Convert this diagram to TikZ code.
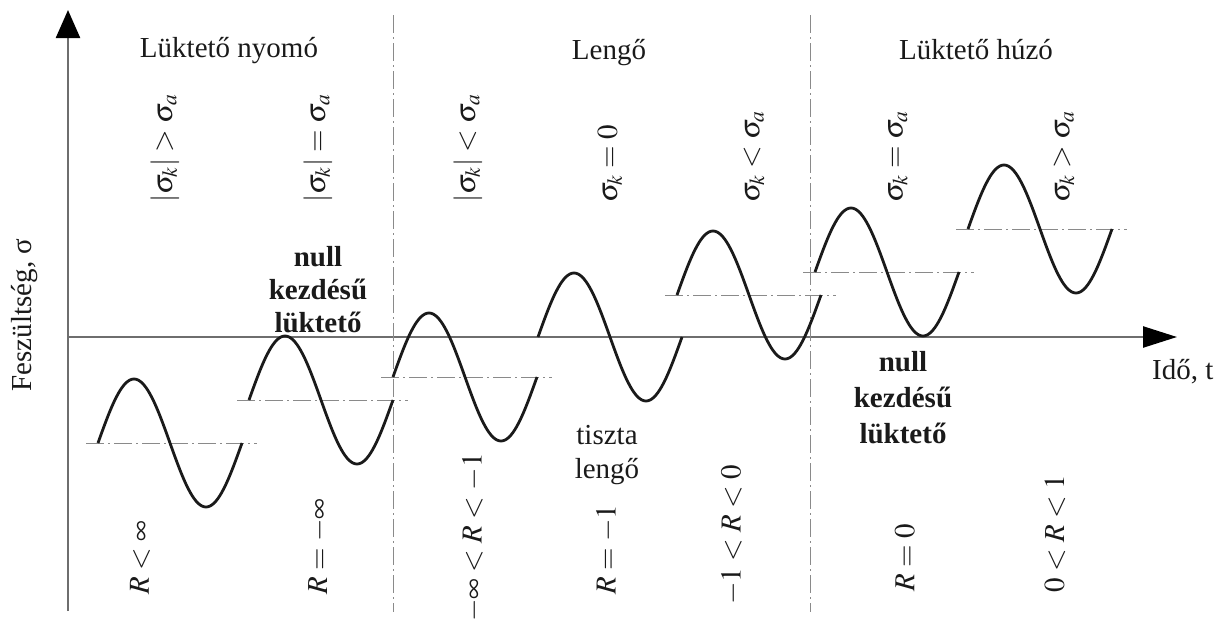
\documentclass[tikz,border=0pt]{standalone}
\usepackage{mathptmx}
\usepackage{fontspec}
\setmainfont{Liberation Serif}
\usetikzlibrary{arrows.meta}
\definecolor{axisgray}{HTML}{6E6E6E}
\definecolor{midgray}{HTML}{8A8A8A}
\definecolor{inkblack}{HTML}{1A1A1A}

\begin{document}
\begin{tikzpicture}[
      x=1pt, y=-1pt,
      every node/.style={font=\fontsize{29}{34}\selectfont, text=inkblack, inner sep=0pt},
      axisline/.style={draw=axisgray, line width=2.4pt},
      midline/.style={draw=midgray, line width=0.9pt, dash pattern=on 18pt off 4pt on 2pt off 4pt},
      wave/.style={draw=inkblack, line width=2.8pt, line join=round},
      cond/.style={rotate=90, anchor=west},
      note/.style={align=center},
    ]
    \useasboundingbox (0,0) rectangle (1223,621);

    % Axes
    \coordinate (origin) at (68,337);
    \coordinate (ybot) at (68,611);
    \coordinate (ytip) at (68,10);
    \coordinate (xtip) at (1177,337);
    \draw[axisline, -{Triangle[length=28pt, width=24pt, color=black]}] (ybot) -- (ytip);
    \draw[axisline, -{Triangle[length=34pt, width=21pt, color=black]}] (origin) -- (xtip);
    \node[rotate=90] (ylabel) at (25,315) {Feszültség, σ};
    \node[anchor=west] (xlabel) at (1152,372) {Idő, t};

    % Zone borders
    \coordinate (b1top) at (393,15);
    \coordinate (b1bot) at (393,612);
    \coordinate (b2top) at (810,15);
    \coordinate (b2bot) at (810,612);
    \draw[midline] (b1top) -- (b1bot);
    \draw[midline] (b2top) -- (b2bot);

    % Zone titles
    \node[anchor=base] (nyomo) at (229,57) {Lüktető nyomó};
    \node[anchor=base] (lengo) at (609,59) {Lengő};
    \node[anchor=base] (huzo) at (976,59) {Lüktető húzó};

    % Mean lines and one period of each cycle
    \foreach \xs/\ym in {98/443, 249/400, 393/377, 677/295, 815/272, 968/229}
      \draw[midline] (\xs-12,\ym) -- (\xs+159,\ym);
    \foreach \xs/\ym in {98/443, 249/400, 393/377, 538/337, 677/295, 815/272, 968/229}
      \draw[wave] plot[domain=0:360, samples=73, smooth] ({\xs+\x/2.5}, {\ym-64*sin(\x)});

    % Stress conditions
    \node[cond] (c1) at (165,203) {$|\sigma_k| > \sigma_a$};
    \node[cond] (c2) at (318,203) {$|\sigma_k| = \sigma_a$};
    \node[cond] (c3) at (468,203) {$|\sigma_k| < \sigma_a$};
    \node[cond] (c4) at (610,203) {$\sigma_k = 0$};
    \node[cond] (c5) at (754,203) {$\sigma_k < \sigma_a$};
    \node[cond] (c6) at (898,203) {$\sigma_k = \sigma_a$};
    \node[cond] (c7) at (1064,203) {$\sigma_k > \sigma_a$};

    % Stress ratios
    \node[cond] (r1) at (140,595) {$R < \infty$};
    \node[cond] (r2) at (319,595) {$R = -\infty$};
    \node[cond] (r3) at (473,622) {$-\infty < R < -1$};
    \node[cond] (r4) at (607,595) {$R = -1$};
    \node[cond] (r5) at (732,605) {$-1 < R < 0$};
    \node[cond] (r6) at (905,592) {$R = 0$};
    \node[cond] (r7) at (1055,593) {$0 < R < 1$};

    % Special cases
    \node[note, font=\fontsize{29}{33}\selectfont\bfseries] (nullny) at (318,290) {null\\kezdésű\\lüktető};
    \node[note] (tiszta) at (607,455) {tiszta\\lengő};
    \node[note, font=\fontsize{29}{36}\selectfont\bfseries] (nullhu) at (903,398) {null\\kezdésű\\lüktető};
  \end{tikzpicture}
\end{document}
